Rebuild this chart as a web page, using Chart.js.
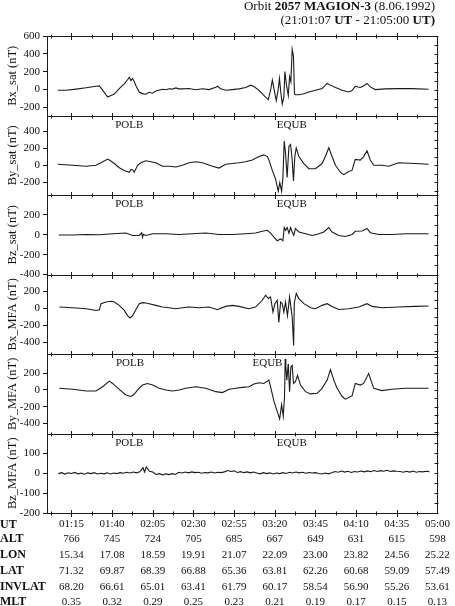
<!DOCTYPE html>
<html>
<head>
<meta charset="utf-8">
<script src="https://cdn.jsdelivr.net/npm/chart.js@4.4.0/dist/chart.umd.min.js"></script>
<style>
  html, body { margin: 0; padding: 0; background: #fff; }
  #wrap { position: relative; width: 455px; height: 606px; overflow: hidden;
          font-family: 'Liberation Serif', 'Times New Roman', serif; color: #111; }
  #chart { position: absolute; left: 0; top: 0; }
  .title { position: absolute; right: 20px; top: -1px; font-size: 13px; line-height: 14px;
           text-align: right; white-space: nowrap; }
  .mark { position: absolute; font-size: 11px; line-height: 11px; white-space: nowrap;
          transform: translate(-50%, -50%); }
  .rowlab { position: absolute; left: 0; font-size: 12px; font-weight: bold; line-height: 12px;
            transform: translateY(-50%); }
  .cell { position: absolute; font-size: 11px; line-height: 11px; white-space: nowrap;
          transform: translate(-50%, -50%); }
</style>
</head>
<body>
<div id="wrap">
  <canvas id="chart" width="455" height="606"></canvas>
  <div class="title">Orbit <b>2057 MAGION-3</b> (8.06.1992)<br>(21:01:07 <b>UT</b> - 21:05:00 <b>UT)</b></div>
</div>
<script>
// time is in seconds after 21:00:00 UT
const xTicks = [75, 100, 125, 150, 175, 200, 225, 250, 275, 300];
const utLabels = ['01:15', '01:40', '02:05', '02:30', '02:55', '03:20', '03:45', '04:10', '04:35', '05:00'];

// table under the plot
const rowNames = ['UT', 'ALT', 'LON', 'LAT', 'INVLAT', 'MLT'];
const altRow = ['766', '745', '724', '705', '685', '667', '649', '631', '615', '598'];
const lonRow = ['15.34', '17.08', '18.59', '19.91', '21.07', '22.09', '23.00', '23.82', '24.56', '25.22'];
const latRow = ['71.32', '69.87', '68.39', '66.88', '65.36', '63.81', '62.26', '60.68', '59.09', '57.49'];
const invlatRow = ['68.20', '66.61', '65.01', '63.41', '61.79', '60.17', '58.54', '56.90', '55.26', '53.61'];
const mltRow = ['0.35', '0.32', '0.29', '0.25', '0.23', '0.21', '0.19', '0.17', '0.15', '0.13'];

// [time, nT]
const bxSat = [[66.6,-8],[71.7,-8],[77.9,5],[84.0,20],[90.1,38],[92.2,40],[93.5,10],[97.3,-84],[99.0,-70],[101.4,-50],
  [104.4,10],[107.5,65],[109.5,110],[110.6,137],[111.6,100],[112.6,125],[113.6,90],[114.6,45],[116.7,-27],[118.7,-45],
  [120.7,-52],[122.8,-30],[124.8,-40],[126.9,-15],[131.0,4],[133.0,-2],[135.1,10],[137.0,5],[139.2,19],[141.0,8],
  [143.3,8],[147.3,12],[151.4,-2],[155.5,10],[159.6,0],[163.7,25],[164.7,38],[166.8,10],[169.8,-8],[173.9,0],
  [178.0,8],[182.1,23],[185.2,50],[187.2,35],[190.3,-8],[193.3,-65],[196.0,-114],[197.4,-10],[198.5,107],[199.7,-8],
  [200.9,-122],[202.1,0],[202.9,125],[203.8,-46],[204.6,-160],[205.6,-84],[206.2,202],[207.2,50],[208.3,-65],[209.1,145],
  [209.9,88],[210.7,450],[211.5,373],[212.1,-46],[212.7,-57],[214.8,-57],[217.9,-46],[220.9,-27],[225.0,-8],[229.1,11],
  [232.2,69],[234.2,50],[237.3,23],[241.4,-8],[245.4,-27],[247.5,-10],[249.5,38],[251.0,30],[252.6,23],[254.5,40],
  [256.7,69],[258.7,30],[261.8,0],[267.9,8],[276.1,11],[284.3,11],[294.5,4]];

const bySat = [[66.6,12],[75.8,0],[84.0,-12],[90.1,0],[93.2,29],[97.3,73],[98.3,61],[101.4,20],[104.4,-29],[107.5,-61],
  [110.6,-82],[111.6,-50],[112.6,-53],[113.6,-82],[115.7,0],[117.7,29],[120.8,53],[123.8,41],[126.9,29],[131.0,-12],
  [135.1,-12],[139.2,-20],[143.3,0],[147.3,29],[151.4,41],[155.5,29],[161.7,-12],[165.7,-33],[169.8,12],[173.9,20],
  [178.0,29],[182.1,41],[186.2,61],[190.3,102],[193.3,122],[195.4,102],[196.4,61],[198.5,-61],[200.5,-163],[202.1,-306],
  [203.1,-204],[204.2,-306],[205.0,-143],[205.8,286],[206.6,143],[207.6,-143],[208.7,224],[209.7,245],[210.7,61],[211.5,-184],
  [212.3,102],[213.2,204],[214.8,102],[217.9,20],[220.9,-41],[225.0,-41],[229.1,20],[231.1,102],[233.2,204],[235.2,102],
  [237.3,0],[240.3,-82],[242.4,-110],[245.4,-73],[247.5,-61],[249.5,69],[252.6,61],[254.6,102],[256.7,171],[258.7,61],
  [260.8,0],[265.9,0],[270.0,-12],[276.1,29],[286.3,20],[294.5,12]];

const bzSat = [[67.2,-3],[75.8,-3],[84.0,3],[92.2,0],[100.3,10],[108.5,17],[112.6,-7],[116.7,-7],[118.2,20],[118.7,-25],
  [119.2,5],[120.8,-7],[124.9,10],[133.0,10],[141.2,3],[149.4,10],[157.6,17],[165.7,3],[173.9,3],[182.1,10],
  [188.2,17],[192.3,35],[195.4,45],[197.4,17],[199.5,-25],[201.5,-60],[203.6,-42],[205.0,-60],[205.8,73],[206.6,45],
  [207.6,73],[208.7,17],[209.7,73],[210.7,28],[211.7,-7],[212.7,63],[214.8,28],[218.9,10],[223.0,-7],[227.1,10],
  [230.1,28],[233.2,73],[235.2,28],[239.3,-7],[243.4,-17],[247.5,3],[249.5,35],[253.6,38],[256.7,63],[258.7,21],
  [263.8,3],[272.0,3],[280.2,10],[288.4,10],[294.5,10]];

const bxMfa = [[67.6,12],[75.8,4],[84.0,-8],[90.1,-28],[92.2,-20],[93.2,52],[96.3,72],[99.3,80],[101.4,72],[104.4,32],
  [107.5,-28],[109.5,-88],[111.0,-116],[112.6,-88],[114.6,-20],[116.7,52],[118.7,64],[120.8,60],[122.8,52],[126.9,32],
  [131.0,12],[135.1,4],[139.2,-8],[143.3,4],[147.3,12],[153.5,4],[159.6,12],[164.7,-20],[169.8,20],[173.9,32],
  [178.0,20],[184.1,-8],[188.2,12],[192.3,92],[194.4,152],[196.0,112],[197.4,132],[198.9,-48],[200.1,52],[201.5,92],
  [202.5,-168],[203.6,72],[204.6,52],[205.6,-48],[206.6,72],[207.8,-88],[209.1,132],[209.9,12],[210.7,-108],[211.6,-440],
  [212.0,60],[213.2,172],[214.8,112],[217.9,52],[222.0,4],[225.0,-8],[229.1,32],[232.2,52],[235.2,20],[239.3,-16],
  [245.4,-8],[251.6,12],[256.7,52],[259.8,20],[265.9,4],[276.1,12],[286.3,20],[294.5,24]];

const byMfa = [[67.6,20],[75.8,8],[84.0,-12],[90.1,-12],[94.2,39],[98.3,106],[100.3,78],[104.4,8],[108.5,-59],[111.6,-78],
  [113.6,-51],[115.7,0],[118.7,59],[121.8,78],[124.9,59],[128.9,20],[133.0,0],[137.1,-12],[141.2,0],[145.3,20],
  [151.4,39],[157.6,20],[163.7,-20],[167.8,-31],[171.9,8],[176.0,20],[180.0,31],[184.1,39],[187.2,71],[190.3,86],
  [193.3,78],[196.4,118],[197.4,39],[199.5,-137],[201.5,-255],[203.0,-345],[204.2,-176],[205.2,-314],[206.0,-78],[206.4,370],
  [206.8,274],[207.4,118],[208.3,314],[209.1,-20],[209.9,274],[210.7,294],[211.5,78],[212.7,98],[214.0,176],[215.8,59],
  [218.9,-20],[222.0,-47],[226.1,-39],[229.1,20],[232.2,118],[234.2,243],[236.3,118],[238.3,20],[241.4,-78],[243.4,-110],
  [247.5,-71],[249.5,78],[252.6,59],[254.6,78],[257.7,196],[260.8,20],[265.9,-8],[272.0,8],[280.2,20],[294.5,20]];

const bzMfa = [[67,-2],[69,3],[71,-4],[73,2],[75,-1],[77,4],[79,-3],[81,1],[83,-5],[85,2],[87,-2],[89,3],[91,-4],[93,0],
  [95,-3],[97,2],[99,-4],[101,1],[103,-2],[105,3],[107,0],[109,5],[111,1],[113,6],[115,2],[117,7],[119,28],[120,6],
  [121,32],[123,10],[125,6],[127,-6],[129,-2],[131,-8],[133,-3],[135,-7],[137,-2],[139,-6],[141,5],[143,1],[145,6],
  [147,2],[149,7],[151,3],[153,5],[155,0],[157,4],[159,2],[161,6],[163,1],[165,5],[167,3],[169,7],[171,14],[173,9],
  [175,12],[177,4],[179,8],[181,3],[183,7],[185,2],[187,6],[189,1],[191,-3],[193,3],[195,-2],[197,2],[199,-4],[201,1],
  [203,-2],[205,3],[207,-1],[209,5],[211,1],[213,6],[215,2],[217,5],[219,0],[221,4],[223,1],[225,3],[227,-1],[229,-4],
  [231,1],[233,-3],[235,2],[237,9],[239,5],[241,11],[243,6],[245,10],[247,4],[249,9],[251,6],[253,11],[255,7],[257,12],
  [259,8],[261,14],[263,9],[265,13],[267,10],[269,15],[271,9],[273,12],[275,10],[277,9],[279,5],[281,10],[283,6],
  [285,11],[287,5],[289,9],[291,7],[293,10],[295,8]];

// boundary labels: [name, time]
const marksFull = [['POLB', 110.6], ['EQUB', 210.5]];
const marksByMfa = [['POLB', 111.0], ['EQUB', 195.5]];

const panels = [
  { id: 'y1', title: 'Bx_sat (nT)', min: -290, max: 600, ticks: [600, 400, 200, 0, -200], data: bxSat, marks: [] },
  { id: 'y2', title: 'By_sat (nT)', min: -350, max: 585, ticks: [400, 200, 0, -200], data: bySat, marks: marksFull },
  { id: 'y3', title: 'Bz_sat (nT)', min: -400, max: 400, ticks: [200, 0, -200, -400], data: bzSat, marks: marksFull },
  { id: 'y4', title: 'Bx_MFA (nT)', min: -540, max: 395, ticks: [200, 0, -200, -400], data: bxMfa, marks: [] },
  { id: 'y5', title: 'By_MFA (nT)', min: -520, max: 430, ticks: [200, 0, -200, -400], data: byMfa, marks: marksByMfa },
  { id: 'y6', title: 'Bz_MFA (nT)', min: -200, max: 200, ticks: [100, 0, -100, -200], data: bzMfa, marks: marksFull }
];

const serif = "'Liberation Serif', 'Times New Roman', serif";
const ink = '#1a1a1a';

const scales = {
  x: {
    type: 'linear',
    position: 'bottom',
    min: 60,
    max: 300,
    afterBuildTicks: s => { s.ticks = xTicks.map(v => ({ value: v })); },
    afterFit: s => { s.height = 93; },
    ticks: {
      callback: (v) => utLabels[xTicks.indexOf(v)],
      font: { family: serif, size: 11 },
      color: '#111',
      padding: 5,
      maxRotation: 0,
      autoSkip: false
    },
    grid: { display: false, drawTicks: false },
    border: { display: false }
  }
};

// stacked axes are placed bottom-up, so add the lowest panel first
panels.slice().reverse().forEach(p => {
  scales[p.id] = {
    type: 'linear',
    position: 'left',
    stack: 'panels',
    stackWeight: 1,
    min: p.min,
    max: p.max,
    afterBuildTicks: s => { s.ticks = p.ticks.map(v => ({ value: v })); },
    afterFit: s => { s.width = 47; },
    ticks: { font: { family: serif, size: 11 }, color: '#111', padding: 3, autoSkip: false },
    grid: { drawOnChartArea: false, tickLength: 4, color: ink },
    border: { display: true, color: ink, width: 1 },
    title: { display: true, text: p.title, color: '#111', font: { family: serif, size: 12.5 }, padding: { top: 5, bottom: 0 } }
  };
});

// panel separators, time ticks on every border and the right frame
const frame = {
  id: 'frame',
  afterDraw(chart) {
    const { ctx, chartArea: a, scales: sc } = chart;
    const x = sc.x;
    ctx.save();
    ctx.strokeStyle = ink;
    ctx.lineWidth = 1;
    ctx.beginPath();
    const edges = panels.map(p => sc[p.id].top).concat([a.bottom]);
    edges.forEach(yy => {
      const y = Math.round(yy) + 0.5;
      ctx.moveTo(a.left, y);
      ctx.lineTo(a.right, y);
      for (let t = 62.5; t < 300; t += 12.5) {
        const px = Math.round(x.getPixelForValue(t)) + 0.5;
        const len = (t - 75) % 25 === 0 ? 3.5 : 2;
        ctx.moveTo(px, y - len);
        ctx.lineTo(px, y + len);
      }
    });
    const rx = Math.round(a.right) + 0.5;
    ctx.moveTo(rx, a.top);
    ctx.lineTo(rx, a.bottom);
    panels.forEach(p => {
      const s = sc[p.id];
      const step = (p.ticks[0] - p.ticks[1]) / 2;
      for (let v = Math.ceil(s.min / step) * step; v <= s.max; v += step) {
        const py = Math.round(s.getPixelForValue(v)) + 0.5;
        ctx.moveTo(rx - 3, py);
        ctx.lineTo(rx + 1, py);
      }
    });
    ctx.stroke();
    ctx.restore();
  }
};

const chart = new Chart(document.getElementById('chart'), {
  type: 'line',
  data: {
    datasets: panels.map(p => ({
      label: p.title,
      data: p.data.map(d => ({ x: d[0], y: d[1] })),
      yAxisID: p.id,
      borderColor: ink,
      borderWidth: 1.1,
      pointRadius: 0,
      tension: 0,
      fill: false
    }))
  },
  options: {
    responsive: false,
    animation: false,
    layout: { padding: { top: 36, right: 16, left: 0, bottom: 0 } },
    plugins: { legend: { display: false }, tooltip: { enabled: false } },
    scales: scales
  },
  plugins: [frame]
});

// html text: boundary marks and the orbit table
const wrap = document.getElementById('wrap');
function addText(cls, text, left, top) {
  const el = document.createElement('div');
  el.className = cls;
  el.textContent = text;
  el.style.left = left + 'px';
  el.style.top = top + 'px';
  wrap.appendChild(el);
}

const xs = chart.scales.x;
panels.forEach(p => {
  const s = chart.scales[p.id];
  p.marks.forEach(m => addText('mark', m[0], xs.getPixelForValue(m[1]), s.top + 8));
});

const rowY = [524, 537.5, 554, 570, 586, 601];
const rowValues = [null, altRow, lonRow, latRow, invlatRow, mltRow];
rowNames.forEach((name, r) => {
  addText('rowlab', name, 0, rowY[r]);
  if (rowValues[r]) {
    rowValues[r].forEach((v, i) => addText('cell', v, xs.getPixelForValue(xTicks[i]), rowY[r]));
  }
});
</script>
</body>
</html>
